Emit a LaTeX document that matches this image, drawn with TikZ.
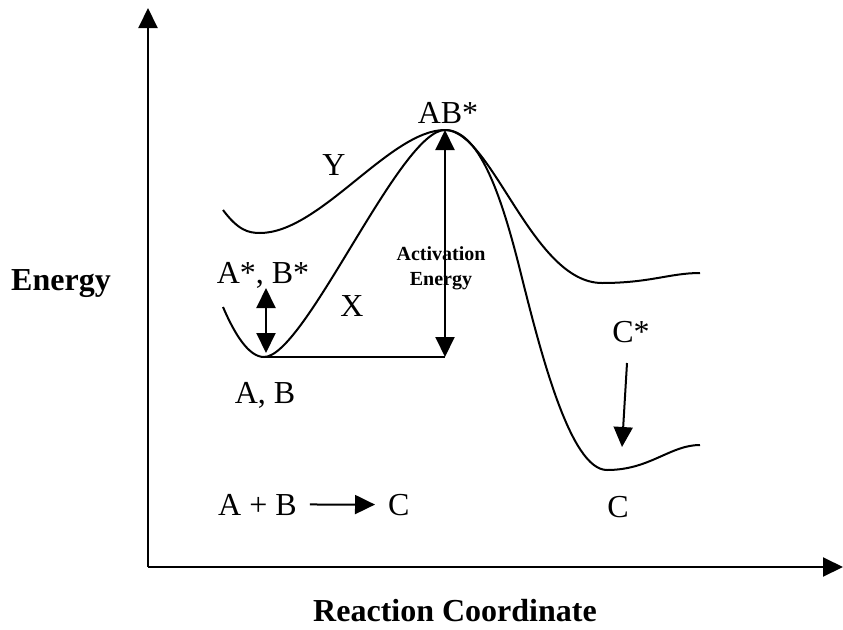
\documentclass[tikz,border=0pt]{standalone}
\usepackage{fontspec}
\setmainfont{Liberation Serif}
\usepackage{tikz}
\usetikzlibrary{positioning, arrows.meta, calc}

\begin{document}
\begin{tikzpicture}[x=1pt, y=-1pt,
    lbl/.style={anchor=base, inner sep=0pt, font=\fontsize{32}{36}\selectfont},
    axlbl/.style={anchor=base, inner sep=0pt, font=\fontsize{32}{36}\selectfont\bfseries},
    curve/.style={line width=2pt},
    tip/.style={-{Triangle[width=19pt, length=20pt]}, line width=2pt},
    dtip/.style={{Triangle[width=19pt, length=20pt]}-{Triangle[width=19pt, length=20pt]}, line width=2pt}]
  \useasboundingbox (0,0) rectangle (843,629);
  % axes
  \coordinate (origin) at (148,567);
  \coordinate (ytop) at (148,8);
  \coordinate (xend) at (843,567);
  \draw[tip] (origin) -- (ytop);
  \draw[tip] (origin) -- (xend);
  \node[axlbl] (energy) at (61,290) {Energy};
  \node[axlbl] (rxn) at (455,621) {Reaction Coordinate};
  % energy curves
  \coordinate (peak) at (445,130);
  \coordinate (minAB) at (264,357);
  \coordinate (minC) at (607,470);
  \draw[curve] (223,307) .. controls (235,335) and (249,357) .. (minAB)
    .. controls (305,357) and (400,130) .. (peak);
  \draw[curve] (223,210) .. controls (238,230) and (248,233) .. (260,233)
    .. controls (320,233) and (390,130) .. (peak);
  \draw[curve] (peak) .. controls (492,130) and (532,283) .. (602,283)
    .. controls (650,283) and (670,273) .. (700,273);
  \draw[curve] (peak) .. controls (478,130) and (500,190) .. (520,270)
    .. controls (540,350) and (570,470) .. (minC)
    .. controls (650,470) and (670,445) .. (700,445);
  % labels
  \node[lbl] (ts) at (448,123) {AB*};
  \node[lbl] (y) at (334,175) {Y};
  \node[lbl] (x) at (352,316) {X};
  \node[lbl] (exc) at (263,283) {A*, B*};
  \node[lbl] (react) at (265,403) {A, B};
  \node[lbl] (cexc) at (631,342) {C*};
  \node[lbl] (prod) at (618,517) {C};
  \node[anchor=base, align=center, inner sep=0pt, font=\fontsize{20}{25}\selectfont\bfseries] (act) at (441,285) {Activation\\Energy};
  % activation energy
  \coordinate (base) at (445,357);
  \draw[curve] (minAB) -- (base);
  \draw[dtip] (base) -- (peak);
  \coordinate (exctop) at (266,288);
  \coordinate (excbot) at (266,353);
  \draw[dtip] (exctop) -- (excbot);
  \coordinate (cfrom) at (627,363);
  \coordinate (cto) at (622,447);
  \draw[tip] (cfrom) -- (cto);
  % overall reaction
  \node[lbl, anchor=base west] (eqn) at (218,515) {A + B};
  \node[lbl, anchor=base west] (eqc) at (388,515) {C};
  \draw[tip] ($(eqn.east)+(13,0)$) -- ($(eqc.west)+(-13,0)$);
\end{tikzpicture}
\end{document}
